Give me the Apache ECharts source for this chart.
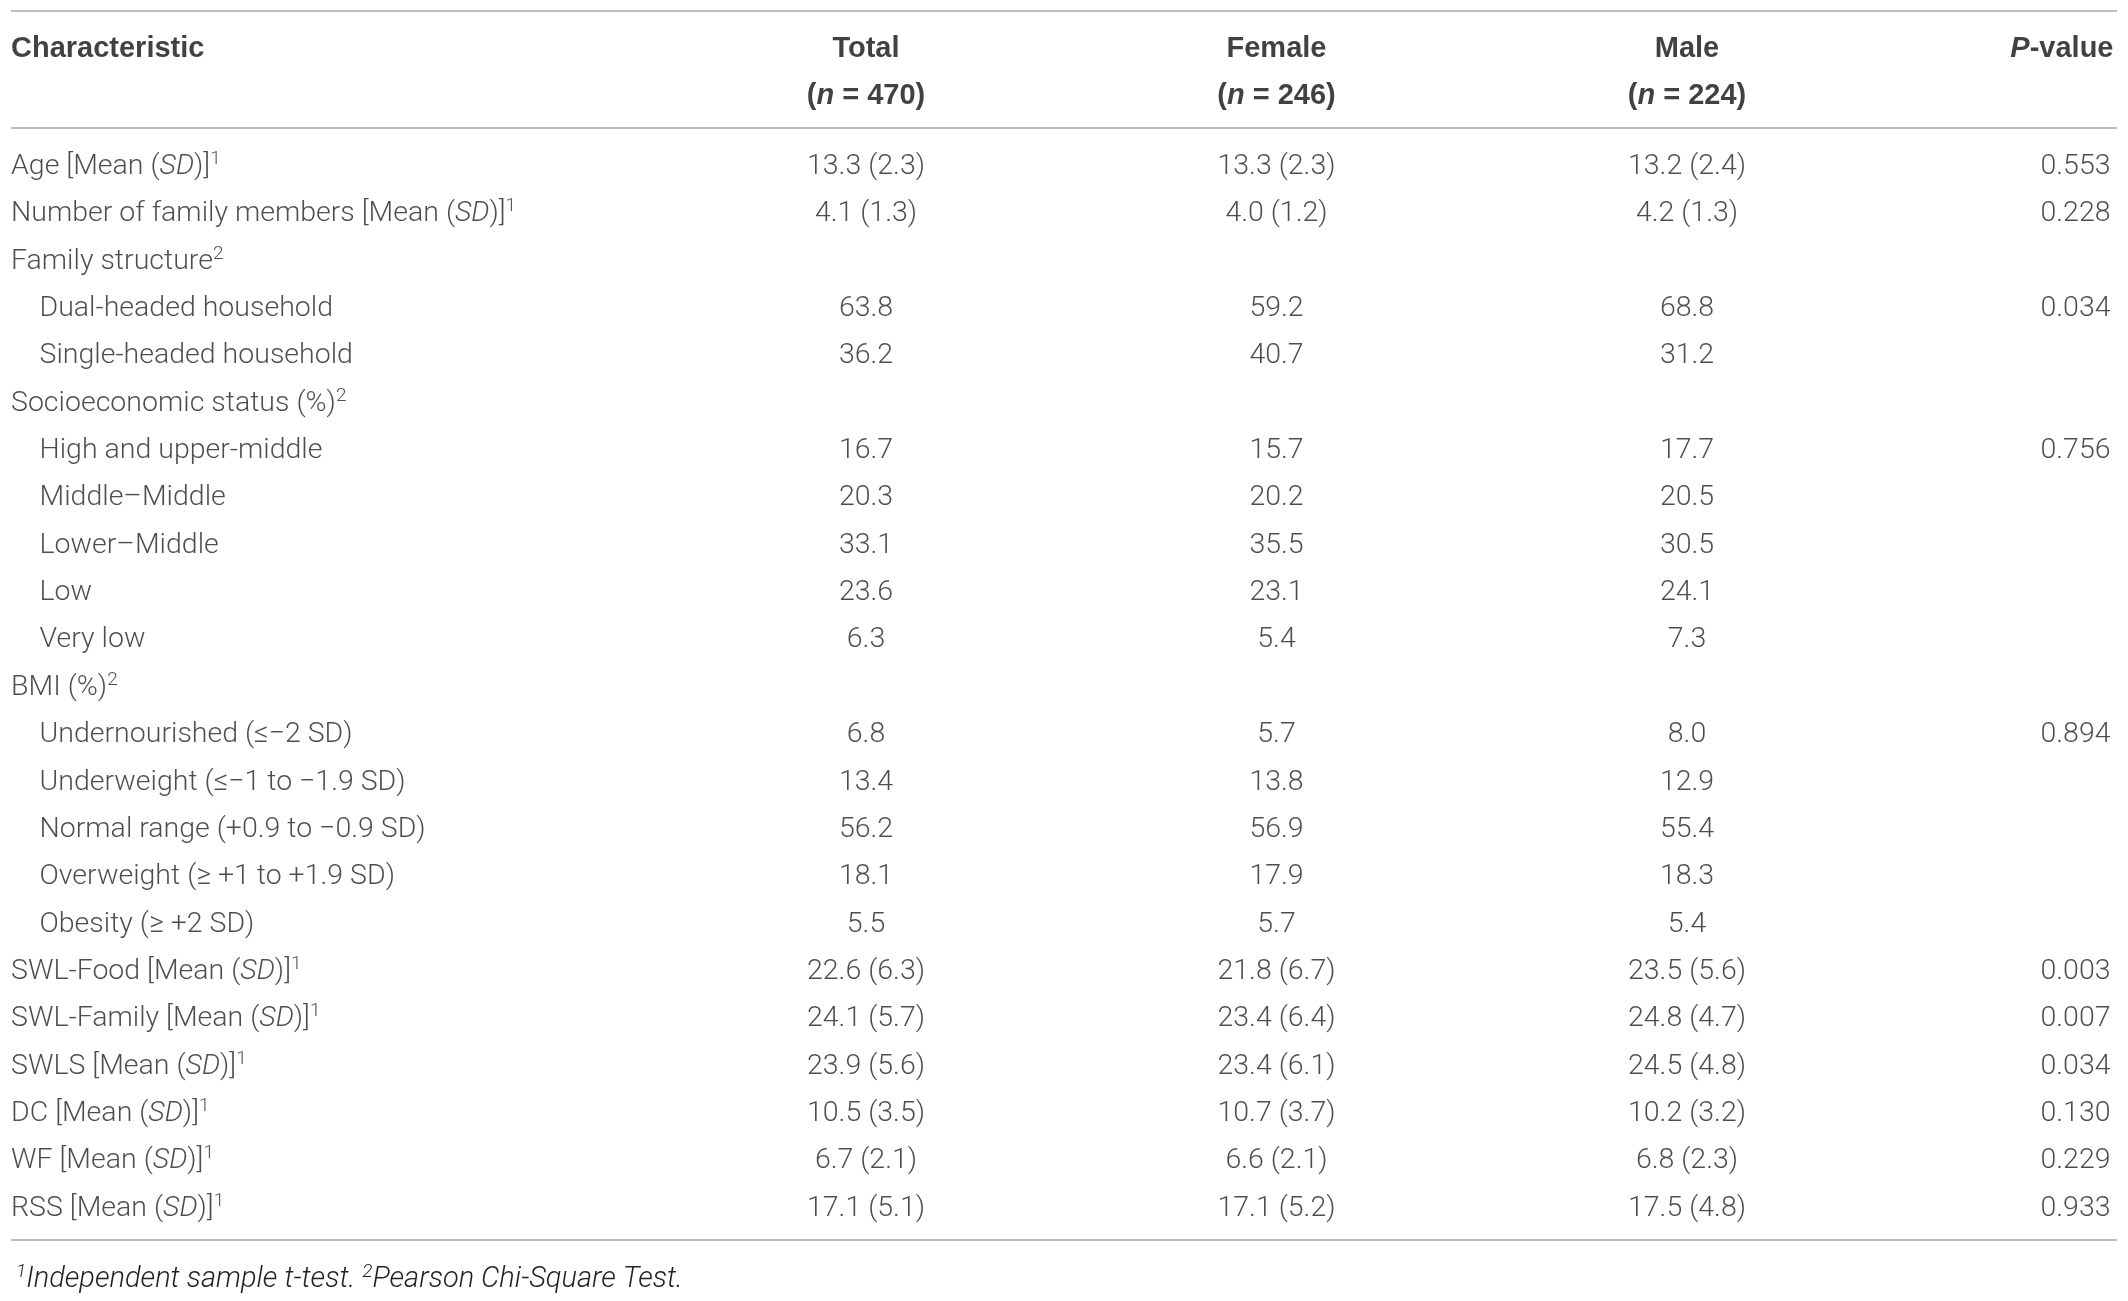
<!DOCTYPE html>
<html lang="en">
<head>
<meta charset="UTF-8">
<title>Characteristics by sex</title>
<script src="https://cdn.jsdelivr.net/npm/echarts@6/dist/echarts.min.js"></script>
<style>
  html, body { margin: 0; padding: 0; background: #fff; }
  #main { width: 2128px; height: 1301px; }
</style>
</head>
<body>
<div id="main"></div>
<script>
// columns of the table
var columns = ['Characteristic', 'Total', 'Female', 'Male', 'P-value'];
var groupN = [null, 470, 246, 224, null];

// row labels ({i|..} = italic), superscript note and indent level
var rowNames = [
  'Age [Mean ({i|SD})]', 'Number of family members [Mean ({i|SD})]', 'Family structure',
  'Dual-headed household', 'Single-headed household',
  'Socioeconomic status (%)', 'High and upper-middle', 'Middle\u2013Middle', 'Lower\u2013Middle', 'Low', 'Very low',
  'BMI (%)', 'Undernourished (\u2264\u22122 SD)', 'Underweight (\u2264\u22121 to \u22121.9 SD)',
  'Normal range (+0.9 to \u22120.9 SD)', 'Overweight (\u2265 +1 to +1.9 SD)', 'Obesity (\u2265 +2 SD)',
  'SWL-Food [Mean ({i|SD})]', 'SWL-Family [Mean ({i|SD})]', 'SWLS [Mean ({i|SD})]',
  'DC [Mean ({i|SD})]', 'WF [Mean ({i|SD})]', 'RSS [Mean ({i|SD})]'
];
var rowNote = [1, 1, 2, 0, 0, 2, 0, 0, 0, 0, 0, 2, 0, 0, 0, 0, 0, 1, 1, 1, 1, 1, 1];
var rowLevel = [0, 0, 0, 1, 1, 0, 1, 1, 1, 1, 1, 0, 1, 1, 1, 1, 1, 0, 0, 0, 0, 0, 0];

// values (mean or %), SD where given, p-values
var totalVal  = [13.3, 4.1, null, 63.8, 36.2, null, 16.7, 20.3, 33.1, 23.6, 6.3, null, 6.8, 13.4, 56.2, 18.1, 5.5, 22.6, 24.1, 23.9, 10.5, 6.7, 17.1];
var totalSD   = [2.3, 1.3, null, null, null, null, null, null, null, null, null, null, null, null, null, null, null, 6.3, 5.7, 5.6, 3.5, 2.1, 5.1];
var femaleVal = [13.3, 4.0, null, 59.2, 40.7, null, 15.7, 20.2, 35.5, 23.1, 5.4, null, 5.7, 13.8, 56.9, 17.9, 5.7, 21.8, 23.4, 23.4, 10.7, 6.6, 17.1];
var femaleSD  = [2.3, 1.2, null, null, null, null, null, null, null, null, null, null, null, null, null, null, null, 6.7, 6.4, 6.1, 3.7, 2.1, 5.2];
var maleVal   = [13.2, 4.2, null, 68.8, 31.2, null, 17.7, 20.5, 30.5, 24.1, 7.3, null, 8.0, 12.9, 55.4, 18.3, 5.4, 23.5, 24.8, 24.5, 10.2, 6.8, 17.5];
var maleSD    = [2.4, 1.3, null, null, null, null, null, null, null, null, null, null, null, null, null, null, null, 5.6, 4.7, 4.8, 3.2, 2.3, 4.8];
var pValues   = [0.553, 0.228, null, 0.034, null, null, 0.756, null, null, null, null, null, 0.894, null, null, null, null, 0.003, 0.007, 0.034, 0.130, 0.229, 0.933];

var FONT = 'Roboto';
var TXT = '#231f20';
var FS = 28.5;
var rich = {
  i: { fontStyle: 'italic', fontSize: FS, fontFamily: FONT, fontWeight: 300, color: TXT, lineHeight: 34 },
  n: { fontSize: FS, fontFamily: FONT, fontWeight: 300, color: TXT, lineHeight: 34 },
  sup: { fontSize: 19, fontFamily: FONT, fontWeight: 300, color: TXT, lineHeight: 19, verticalAlign: 'top' },
  hb: { fontSize: 29, fontFamily: 'Liberation Sans', fontWeight: 'bold', color: '#111', lineHeight: 34 },
  hbi: { fontSize: 29, fontFamily: 'Liberation Sans', fontWeight: 'bold', fontStyle: 'italic', color: '#111', lineHeight: 34 }
};

function wrapPlain(s) {
  // put every plain stretch into the {n|} style
  return s.split(/(\{i\|[^}]*\})/).map(function (p) {
    return p.indexOf('{i|') === 0 ? p : (p ? '{n|' + p + '}' : '');
  }).join('');
}

function fmtCell(v, sd) {
  if (v == null) return null;
  return sd == null ? v.toFixed(1) : v.toFixed(1) + ' (' + sd.toFixed(1) + ')';
}

var hidden = { color: 'rgba(0,0,0,0)' };

function cellSeries(col, cells, align, dx) {
  var data = [];
  cells.forEach(function (t, r) {
    if (t != null) data.push({ value: [col, r], text: t });
  });
  return {
    type: 'scatter', symbolSize: 1, itemStyle: hidden, silent: true, clip: false,
    data: data,
    label: {
      show: true, position: 'inside', align: align, verticalAlign: 'middle', offset: [dx, 0],
      formatter: function (p) { return '{n|' + p.data.text + '}'; },
      rich: rich
    }
  };
}

var series = [];

// first column: characteristic names
series.push({
  type: 'scatter', symbolSize: 1, itemStyle: hidden, silent: true, clip: false,
  data: rowNames.map(function (name, r) {
    return {
      value: [0, r],
      label: { offset: [rowLevel[r] ? -416 : -444.5, 0] }
    };
  }),
  label: {
    show: true, position: 'inside', align: 'left', verticalAlign: 'middle',
    formatter: function (p) {
      var r = p.data.value[1];
      return wrapPlain(rowNames[r]) + (rowNote[r] ? '{sup|' + rowNote[r] + '}' : '');
    },
    rich: rich
  }
});

series.push(cellSeries(1, totalVal.map(function (v, r) { return fmtCell(v, totalSD[r]); }), 'center', 0));
series.push(cellSeries(2, femaleVal.map(function (v, r) { return fmtCell(v, femaleSD[r]); }), 'center', 0));
series.push(cellSeries(3, maleVal.map(function (v, r) { return fmtCell(v, maleSD[r]); }), 'center', 0));
series.push(cellSeries(4, pValues.map(function (v) { return v == null ? null : v.toFixed(3); }), 'right', 13));

// header: first line at row -2.5, second at -1.5
var headData = [];
columns.forEach(function (c, k) {
  var t1 = c === 'P-value' ? '{hbi|P}{hb|-value}' : '{hb|' + c + '}';
  headData.push({ value: [k, -2.5], text: t1 });
  if (groupN[k] != null) headData.push({ value: [k, -1.5], text: '{hb|(}{hbi|n}{hb| = ' + groupN[k] + ')}' });
});
series.push({
  type: 'scatter', symbolSize: 1, itemStyle: hidden, silent: true, clip: false,
  data: headData.map(function (d) {
    var k = d.value[0];
    var lab = k === 0 ? { align: 'left', offset: [-444.5, 0] } : k === 4 ? { align: 'right', offset: [16, 0] } : { align: 'center' };
    return { value: d.value, text: d.text, label: lab };
  }),
  label: {
    show: true, position: 'inside', verticalAlign: 'middle',
    formatter: function (p) { return p.data.text; },
    rich: rich
  }
});

var ruleStyle = { stroke: '#bcbcbc', lineWidth: 2 };

var myChart = echarts.init(document.getElementById('main'));
var option = {
  backgroundColor: '#ffffff',
  animation: false,
  title: {
    left: 11, top: 1258,
    text: '{s|1}{t|Independent sample t-test. }{s|2}{t|Pearson Chi-Square Test.}',
    textStyle: {
      rich: {
        t: { fontSize: 29, fontFamily: FONT, fontWeight: 300, fontStyle: 'italic', color: TXT, lineHeight: 34 },
        s: { fontSize: 19, fontFamily: FONT, fontWeight: 300, fontStyle: 'italic', color: TXT, lineHeight: 19, verticalAlign: 'top' }
      }
    }
  },
  grid: { left: 455.5, right: 30.5, top: 48.5, bottom: 92.5 },
  xAxis: {
    type: 'category', data: columns, boundaryGap: false, show: false
  },
  yAxis: {
    type: 'value', inverse: true, min: -2.5, max: 22, show: false
  },
  graphic: [
    { type: 'line', shape: { x1: 11, y1: 11, x2: 2117, y2: 11 }, style: ruleStyle, silent: true },
    { type: 'line', shape: { x1: 11, y1: 128, x2: 2117, y2: 128 }, style: ruleStyle, silent: true },
    { type: 'line', shape: { x1: 11, y1: 1240, x2: 2117, y2: 1240 }, style: ruleStyle, silent: true }
  ],
  series: series
};
myChart.setOption(option);
</script>
</body>
</html>
